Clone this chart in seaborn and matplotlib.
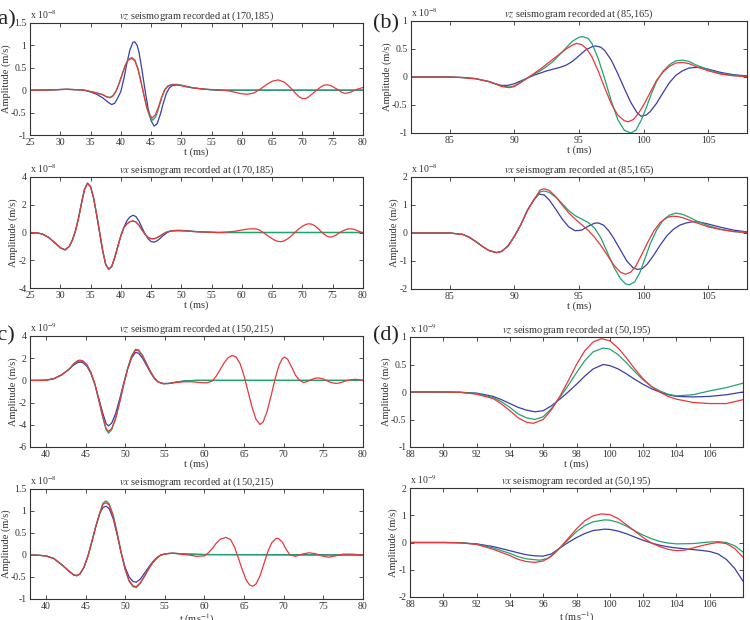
import numpy as np
import pandas as pd
import matplotlib
matplotlib.use("Agg")
import matplotlib.pyplot as plt
import seaborn as sns
from matplotlib.ticker import FuncFormatter

# ---- data (amplitudes in units of the axis exponent) ----
# (a) receiver (170,185)
a1_blue = [(25, 0), (28, 0.005), (31, 0.02), (33, 0.01), (34, 0), (35, -0.04), (36, -0.09), (37, -0.17),
           (38, -0.28), (38.5, -0.32), (39, -0.29), (39.5, -0.17), (40, -0.03), (40.5, 0.25), (41, 0.6),
           (41.5, 0.9), (42, 1.07), (42.3, 1.08), (42.7, 1.0), (43, 0.85), (43.5, 0.45), (44, 0.0),
           (44.5, -0.4), (45, -0.68), (45.5, -0.8), (46, -0.75), (46.5, -0.55), (47, -0.3), (47.5, -0.08),
           (48, 0.05), (48.5, 0.1), (49.3, 0.12), (50, 0.11), (51, 0.08), (52, 0.05), (54, 0.02), (56, 0.0),
           (80, 0.0)]
a1_green = [(25, 0), (28, 0.005), (31, 0.02), (33, 0.01), (34, 0), (35, -0.03), (36, -0.06), (37, -0.1),
            (37.7, -0.15), (38.2, -0.16), (38.7, -0.12), (39.2, -0.02), (39.7, 0.15), (40.2, 0.35),
            (40.7, 0.55), (41.2, 0.68), (41.8, 0.73), (42.3, 0.68), (42.8, 0.5), (43.3, 0.22), (43.8, -0.1),
            (44.3, -0.4), (44.8, -0.6), (45.3, -0.67), (45.8, -0.58), (46.3, -0.38), (46.8, -0.15),
            (47.3, 0.02), (47.8, 0.1), (48.5, 0.13), (49.3, 0.13), (50, 0.11), (51, 0.08), (52, 0.05),
            (54, 0.02), (56, 0.0), (80, 0.0)]
a1_red = [(25, 0), (28, 0.005), (31, 0.02), (33, 0.01), (34, 0), (35, -0.03), (36, -0.06), (37, -0.1),
          (37.7, -0.15), (38.2, -0.17), (38.7, -0.13), (39.2, -0.03), (39.7, 0.14), (40.2, 0.34),
          (40.7, 0.54), (41.2, 0.67), (41.8, 0.71), (42.3, 0.66), (42.8, 0.48), (43.3, 0.2), (43.8, -0.1),
          (44.3, -0.38), (44.8, -0.56), (45.2, -0.62), (45.7, -0.55), (46.2, -0.38), (46.7, -0.17),
          (47.2, 0.0), (47.8, 0.09), (48.5, 0.12), (49.3, 0.12), (50, 0.1), (51, 0.07), (52, 0.05),
          (54, 0.02), (56, 0.01), (57, 0.0), (58, -0.02), (59, -0.05), (60, -0.08), (61, -0.09),
          (62, -0.06), (63, 0.02), (64, 0.12), (65, 0.2), (66, 0.23), (67, 0.18), (68, 0.06), (69, -0.09),
          (69.5, -0.15), (70, -0.19), (70.5, -0.19), (71, -0.15), (72, -0.04), (73, 0.07), (73.5, 0.11),
          (74, 0.12), (74.5, 0.11), (75, 0.08), (76, 0.0), (76.5, -0.05), (77, -0.07), (77.5, -0.06),
          (78, -0.04), (79, 0.02), (80, 0.06)]

a2_start = [(25, 0), (26, -0.02), (27, -0.1), (28, -0.33), (29, -0.7), (30, -1.1), (30.8, -1.25),
            (31.5, -1.0), (32, -0.55), (32.5, 0.1), (33, 1.0), (33.5, 2.1), (34, 3.1), (34.5, 3.55),
            (35, 3.3), (35.5, 2.5), (36, 1.3), (36.5, 0.0), (37, -1.3), (37.5, -2.3), (38, -2.65),
            (38.5, -2.45), (39, -1.8), (39.5, -1.0), (40, -0.25), (40.5, 0.35)]
a2_blue = a2_start + [(41, 0.85), (41.5, 1.12), (42, 1.24), (42.5, 1.15), (43, 0.82), (43.5, 0.35),
                      (44, -0.1), (44.5, -0.45), (45, -0.65), (45.5, -0.7), (46, -0.6), (46.5, -0.42),
                      (47, -0.22), (47.5, -0.05), (48, 0.07), (48.5, 0.13), (49.5, 0.16), (50.5, 0.14),
                      (52, 0.08), (54, 0.03), (56, 0.0), (80, 0.0)]
a2_mid = [(41, 0.62), (41.5, 0.78), (42, 0.83), (42.5, 0.76), (43, 0.52), (43.5, 0.18), (44, -0.13),
          (44.5, -0.35), (45, -0.45), (45.5, -0.45), (46, -0.37), (46.5, -0.24), (47, -0.1), (47.5, 0.02),
          (48, 0.08), (48.5, 0.12), (49.5, 0.13), (50.5, 0.12), (52, 0.07), (54, 0.03), (56, 0.0)]
a2_green = a2_start + a2_mid + [(80, 0.0)]
a2_red = a2_start + a2_mid + [(57, 0.02), (58, 0.05), (59, 0.1), (60, 0.18), (61, 0.25), (62, 0.27),
                              (62.5, 0.24), (63, 0.15), (63.5, 0.0), (64, -0.15), (64.5, -0.3),
                              (65, -0.45), (65.5, -0.57), (66, -0.64), (66.5, -0.66), (67, -0.6),
                              (67.5, -0.47), (68, -0.3), (68.5, -0.1), (69, 0.1), (69.5, 0.3), (70, 0.45),
                              (70.5, 0.57), (71, 0.63), (71.5, 0.6), (72, 0.5), (72.5, 0.32), (73, 0.1),
                              (73.5, -0.1), (74, -0.26), (74.5, -0.33), (75, -0.3), (75.5, -0.2),
                              (76, -0.05), (76.5, 0.08), (77, 0.18), (77.5, 0.25), (78, 0.27),
                              (78.5, 0.23), (79, 0.15), (79.5, 0.05), (80, -0.05)]

# (b) receiver (85,165)
b1_start = [(82, 0), (85, 0), (86, -0.01), (87, -0.03), (88, -0.08), (88.5, -0.12)]
b1_blue = b1_start + [(89, -0.15), (89.5, -0.15), (90, -0.12), (90.5, -0.07), (91, -0.02), (91.5, 0.03),
                      (92, 0.07), (92.5, 0.11), (93, 0.14), (93.5, 0.17), (94, 0.21), (94.5, 0.28),
                      (95, 0.38), (95.5, 0.48), (96, 0.54), (96.3, 0.555), (96.7, 0.53), (97, 0.47),
                      (97.5, 0.3), (98, 0.06), (98.5, -0.2), (99, -0.45), (99.5, -0.64), (99.8, -0.7),
                      (100.2, -0.68), (100.5, -0.62), (101, -0.47), (101.5, -0.28), (102, -0.1),
                      (102.5, 0.03), (103, 0.11), (103.5, 0.16), (104, 0.17), (104.5, 0.17), (105, 0.14),
                      (106, 0.08), (107, 0.04), (108, 0.02)]
b1_green = b1_start + [(89, -0.16), (89.6, -0.18), (90, -0.16), (90.5, -0.09), (91, -0.02), (91.5, 0.05),
                       (92, 0.11), (92.5, 0.19), (93, 0.28), (93.5, 0.4), (94, 0.52), (94.5, 0.64),
                       (95, 0.71), (95.3, 0.72), (95.7, 0.69), (96, 0.6), (96.5, 0.32), (97, -0.04),
                       (97.5, -0.43), (98, -0.76), (98.5, -0.95), (99, -1.0), (99.4, -0.95), (99.8, -0.78),
                       (100.2, -0.55), (100.6, -0.3), (101, -0.08), (101.5, 0.1), (102, 0.22),
                       (102.5, 0.29), (103, 0.3), (103.5, 0.28), (104, 0.22), (105, 0.13), (106, 0.06),
                       (107, 0.03), (108, 0.01)]
b1_red = b1_start + [(89, -0.17), (89.6, -0.19), (90, -0.17), (90.5, -0.1), (91, -0.02), (91.5, 0.06),
                     (92, 0.14), (92.5, 0.23), (93, 0.32), (93.5, 0.41), (94, 0.5), (94.5, 0.57),
                     (94.8, 0.6), (95.2, 0.58), (95.6, 0.5), (96, 0.36), (96.5, 0.1), (97, -0.2),
                     (97.5, -0.48), (98, -0.68), (98.5, -0.78), (98.8, -0.8), (99.2, -0.76), (99.6, -0.65),
                     (100, -0.5), (100.5, -0.28), (101, -0.06), (101.5, 0.09), (102, 0.19), (102.5, 0.25),
                     (103, 0.26), (103.5, 0.24), (104, 0.19), (105, 0.11), (106, 0.05), (107, 0.02),
                     (108, 0.01)]

b2_start = [(82, 0), (85, 0), (86, -0.05), (86.5, -0.15), (87, -0.3), (87.5, -0.47), (88, -0.62),
            (88.6, -0.7), (89, -0.66), (89.5, -0.47), (90, -0.12), (90.5, 0.3), (91, 0.8), (91.5, 1.18)]
b2_blue = b2_start + [(91.9, 1.39), (92.3, 1.36), (92.7, 1.18), (93.2, 0.85), (93.7, 0.5), (94.2, 0.22),
                      (94.7, 0.08), (95.2, 0.1), (95.7, 0.24), (96.2, 0.35), (96.5, 0.36), (96.9, 0.28),
                      (97.3, 0.08), (97.7, -0.2), (98.2, -0.6), (98.7, -1.0), (99.2, -1.25), (99.5, -1.3),
                      (99.9, -1.27), (100.3, -1.1), (100.8, -0.78), (101.3, -0.42), (101.8, -0.1),
                      (102.3, 0.13), (102.8, 0.28), (103.3, 0.36), (103.8, 0.4), (104.3, 0.39),
                      (105, 0.32), (106, 0.2), (107, 0.1), (108, 0.04)]
b2_green = b2_start + [(92, 1.47), (92.3, 1.5), (92.7, 1.45), (93.2, 1.28), (93.7, 1.05), (94.2, 0.8),
                       (94.7, 0.62), (95.2, 0.5), (95.7, 0.38), (96.2, 0.18), (96.7, -0.18), (97.2, -0.7),
                       (97.7, -1.22), (98.2, -1.62), (98.6, -1.82), (98.9, -1.85), (99.3, -1.75),
                       (99.7, -1.42), (100.1, -0.92), (100.5, -0.4), (101, 0.1), (101.5, 0.45), (102, 0.64),
                       (102.5, 0.71), (103, 0.67), (103.5, 0.57), (104, 0.45), (105, 0.26), (106, 0.13),
                       (107, 0.05), (108, 0.02)]
b2_red = b2_start + [(92, 1.54), (92.3, 1.58), (92.7, 1.52), (93.2, 1.3), (93.7, 1.0), (94.2, 0.72),
                     (94.7, 0.5), (95.2, 0.3), (95.7, 0.1), (96.2, -0.15), (96.7, -0.45), (97.2, -0.8),
                     (97.7, -1.15), (98.2, -1.4), (98.6, -1.47), (99, -1.4), (99.4, -1.18), (99.8, -0.82),
                     (100.3, -0.35), (100.8, 0.08), (101.3, 0.38), (101.8, 0.55), (102.2, 0.6),
                     (102.6, 0.59), (103, 0.55), (104, 0.38), (105, 0.22), (106, 0.12), (107, 0.05),
                     (108, 0.02)]

# (c) receiver (150,215)
c1_start = [(38, 0), (39, 0), (40, 0.02), (41, 0.15), (42, 0.5), (43, 1.05)]
c1_blue = c1_start + [(43.5, 1.38), (44, 1.6), (44.3, 1.65), (44.7, 1.58), (45.2, 1.25), (45.7, 0.6),
                      (46.2, -0.4), (46.7, -1.7), (47.2, -3.0), (47.6, -3.9), (47.9, -4.1), (48.3, -3.85),
                      (48.8, -3.0), (49.3, -1.7), (49.8, -0.3), (50.3, 1.0), (50.8, 2.0), (51.3, 2.52),
                      (51.7, 2.45), (52.2, 2.0), (52.7, 1.35), (53.2, 0.7), (53.7, 0.15), (54.2, -0.15),
                      (54.8, -0.28), (55.5, -0.27), (56.5, -0.15), (57.5, -0.05), (59, 0.0), (80, 0.0)]
c1_green = c1_start + [(43.5, 1.45), (44, 1.7), (44.3, 1.75), (44.7, 1.68), (45.2, 1.33), (45.7, 0.65),
                       (46.2, -0.4), (46.7, -1.9), (47.2, -3.4), (47.6, -4.45), (47.9, -4.75), (48.3, -4.45),
                       (48.8, -3.45), (49.3, -2.0), (49.8, -0.4), (50.3, 1.05), (50.8, 2.2), (51.3, 2.8),
                       (51.7, 2.75), (52.2, 2.25), (52.7, 1.5), (53.2, 0.78), (53.7, 0.2), (54.2, -0.15),
                       (54.8, -0.3), (55.5, -0.28), (56.5, -0.15), (57.5, -0.05), (59, 0.0), (80, 0.0)]
c1_red = c1_start + [(43.5, 1.5), (44, 1.78), (44.3, 1.83), (44.7, 1.75), (45.2, 1.4), (45.7, 0.7),
                     (46.2, -0.35), (46.7, -1.8), (47.2, -3.3), (47.6, -4.35), (47.9, -4.6), (48.3, -4.35),
                     (48.8, -3.4), (49.3, -2.0), (49.8, -0.45), (50.3, 1.0), (50.8, 2.1), (51.3, 2.72),
                     (51.7, 2.68), (52.2, 2.2), (52.7, 1.5), (53.2, 0.8), (53.7, 0.2), (54.2, -0.15),
                     (54.8, -0.3), (55.5, -0.28), (56.5, -0.18), (57.5, -0.12), (58.5, -0.13),
                     (59.5, -0.2), (60.3, -0.22), (61, -0.05), (61.5, 0.4), (62, 1.0), (62.5, 1.6),
                     (63, 2.05), (63.5, 2.25), (64, 2.1), (64.5, 1.5), (65, 0.4), (65.5, -1.0), (66, -2.4),
                     (66.5, -3.5), (67, -3.97), (67.4, -3.75), (67.9, -2.8), (68.4, -1.4), (68.9, 0.1),
                     (69.4, 1.35), (69.8, 1.95), (70.1, 2.1), (70.5, 1.9), (71, 1.2), (71.5, 0.45),
                     (72, 0.0), (72.5, -0.18), (73, -0.1), (73.5, 0.08), (74, 0.2), (74.5, 0.22),
                     (75, 0.12), (75.5, -0.05), (76, -0.2), (76.6, -0.28), (77.2, -0.2), (77.8, -0.05),
                     (78.5, 0.06), (79, 0.1), (79.5, 0.06), (80, 0.0)]

c2_start = [(38, 0), (39, -0.005), (40, -0.02), (41, -0.08), (42, -0.22), (43, -0.38), (43.5, -0.45),
            (43.9, -0.47), (44.3, -0.43), (44.8, -0.28), (45.3, -0.03), (45.8, 0.3), (46.3, 0.65),
            (46.8, 0.95)]
c2_blue = c2_start + [(47.2, 1.08), (47.6, 1.11), (48, 1.05), (48.5, 0.82), (49, 0.45), (49.5, 0.05),
                      (50, -0.28), (50.5, -0.5), (51, -0.6), (51.4, -0.62), (51.9, -0.55), (52.5, -0.4),
                      (53, -0.27), (53.5, -0.15), (54, -0.06), (54.5, 0.0), (55.2, 0.03), (56, 0.04),
                      (57, 0.03), (58, 0.02), (60, 0.01), (80, 0.0)]
c2_green = c2_start + [(47.2, 1.18), (47.6, 1.23), (48, 1.16), (48.5, 0.9), (49, 0.5), (49.5, 0.05),
                       (50, -0.33), (50.5, -0.6), (51, -0.72), (51.4, -0.74), (51.9, -0.65), (52.5, -0.47),
                       (53, -0.31), (53.5, -0.17), (54, -0.07), (54.5, 0.0), (55.2, 0.03), (56, 0.04),
                       (57, 0.03), (58, 0.02), (60, 0.01), (80, 0.0)]
c2_red = c2_start + [(47.2, 1.15), (47.6, 1.19), (48, 1.13), (48.5, 0.88), (49, 0.48), (49.5, 0.05),
                     (50, -0.32), (50.5, -0.58), (51, -0.7), (51.4, -0.72), (51.9, -0.63), (52.5, -0.46),
                     (53, -0.3), (53.5, -0.17), (54, -0.07), (54.5, 0.0), (55.2, 0.03), (56, 0.04),
                     (57, 0.02), (58, 0.0), (59, -0.03), (60, -0.02), (60.5, 0.05), (61, 0.15),
                     (61.5, 0.27), (62, 0.36), (62.7, 0.4), (63.3, 0.35), (63.8, 0.18), (64.3, -0.08),
                     (64.8, -0.35), (65.3, -0.58), (65.7, -0.68), (66.1, -0.71), (66.5, -0.66), (67, -0.48),
                     (67.5, -0.2), (68, 0.08), (68.5, 0.28), (69, 0.37), (69.3, 0.38), (69.8, 0.3),
                     (70.3, 0.13), (70.8, 0.0), (71.5, -0.03), (72.3, 0.02), (73.2, 0.05), (74, 0.03),
                     (75, -0.03), (75.7, -0.05), (76.5, -0.02), (77.5, 0.02), (78.5, 0.02), (80, 0.0)]

# (d) receiver (50,195)
d1_blue = [(88, 0), (90, 0), (91, -0.005), (92, -0.02), (93, -0.08), (93.5, -0.14), (94, -0.21),
           (94.5, -0.28), (95, -0.33), (95.5, -0.36), (96, -0.34), (96.5, -0.25), (97, -0.13), (97.5, 0.0),
           (98, 0.14), (98.5, 0.29), (99, 0.42), (99.6, 0.5), (100, 0.48), (100.5, 0.42), (101, 0.33),
           (101.5, 0.23), (102, 0.14), (102.5, 0.06), (103, 0.0), (103.5, -0.05), (104, -0.08),
           (105, -0.09), (106, -0.08), (107, -0.05), (108, 0.0)]
d1_green = [(88, 0), (90, 0), (91, -0.005), (92, -0.03), (93, -0.1), (93.5, -0.18), (94, -0.28),
            (94.5, -0.4), (95, -0.47), (95.5, -0.5), (96, -0.45), (96.5, -0.3), (97, -0.1), (97.5, 0.12),
            (98, 0.35), (98.5, 0.57), (99, 0.73), (99.6, 0.8), (100, 0.78), (100.5, 0.68), (101, 0.53),
            (101.5, 0.37), (102, 0.22), (102.5, 0.1), (103, 0.02), (103.5, -0.04), (104, -0.07),
            (105, -0.05), (106, 0.02), (107, 0.08), (108, 0.16)]
d1_red = [(88, 0), (90, 0), (91, -0.005), (92, -0.04), (93, -0.12), (93.5, -0.22), (94, -0.34),
          (94.5, -0.47), (95, -0.55), (95.4, -0.57), (96, -0.5), (96.5, -0.32), (97, -0.08), (97.5, 0.2),
          (98, 0.5), (98.5, 0.75), (99, 0.91), (99.5, 0.97), (100, 0.93), (100.5, 0.8), (101, 0.62),
          (101.5, 0.42), (102, 0.24), (102.5, 0.1), (103, 0.0), (103.5, -0.08), (104, -0.13),
          (105, -0.19), (106, -0.21), (107, -0.21), (108, -0.14)]

d2_blue = [(88, 0), (90, 0), (91, -0.01), (92, -0.05), (93, -0.15), (94, -0.3), (94.5, -0.38), (95, -0.45),
           (95.5, -0.49), (96, -0.5), (96.5, -0.42), (97, -0.2), (97.5, 0.0), (98, 0.18), (98.5, 0.33),
           (99, 0.44), (99.7, 0.49), (100, 0.48), (100.5, 0.42), (101, 0.32), (101.5, 0.2), (102, 0.08),
           (102.5, -0.02), (103, -0.1), (103.5, -0.16), (104, -0.2), (104.5, -0.23), (105, -0.26),
           (105.5, -0.29), (106, -0.33), (106.5, -0.42), (107, -0.62), (107.5, -0.95), (108, -1.42)]
d2_green = [(88, 0), (90, 0), (91, -0.01), (92, -0.06), (93, -0.2), (94, -0.4), (94.5, -0.52), (95, -0.6),
            (95.8, -0.65), (96.3, -0.58), (96.7, -0.38), (97, -0.2), (97.5, 0.1), (98, 0.4), (98.5, 0.62),
            (99, 0.76), (99.7, 0.83), (100, 0.82), (100.5, 0.74), (101, 0.6), (101.5, 0.43), (102, 0.27),
            (102.5, 0.14), (103, 0.04), (103.5, -0.02), (104, -0.05), (105, -0.04), (106, 0.02),
            (106.5, 0.03), (107, 0.0), (107.5, -0.12), (108, -0.35)]
d2_red = [(88, 0), (90, 0), (91, -0.01), (92, -0.07), (93, -0.25), (94, -0.48), (94.5, -0.62), (95, -0.7),
          (95.5, -0.73), (96, -0.68), (96.5, -0.5), (97, -0.2), (97.5, 0.15), (98, 0.5), (98.5, 0.8),
          (99, 0.98), (99.5, 1.05), (100, 1.02), (100.5, 0.88), (101, 0.65), (101.5, 0.42), (102, 0.18),
          (102.5, -0.02), (103, -0.15), (103.5, -0.25), (104, -0.3), (104.5, -0.28), (105, -0.2),
          (105.5, -0.12), (106, -0.05), (106.5, 0.0), (107, -0.04), (107.5, -0.22), (108, -0.54)]

# ---- style ----
sns.set_theme(style="ticks")
plt.rcParams["font.family"] = ["Liberation Serif", "DejaVu Serif"]
plt.rcParams["mathtext.fontset"] = "stix"
plt.rcParams["axes.unicode_minus"] = False
plt.rcParams["xtick.direction"] = "in"
plt.rcParams["ytick.direction"] = "in"
plt.rcParams["xtick.top"] = True
plt.rcParams["ytick.right"] = True

palette = {"blue": "#3c3caa", "green": "#22a36e", "red": "#e8373b"}
order = ["blue", "green", "red"]

W, H = 750, 620
fig = plt.figure(figsize=(W / 100, H / 100), dpi=100)


def make_ax(left, top, right, bottom):
    return fig.add_axes([left / W, 1 - bottom / H, (right - left) / W, (bottom - top) / H])


def panel(ax, curves, xlim, xticks, ylim, yticks, exp, comp, rec, xlabel):
    rows = []
    for name, pts in zip(order, curves):
        for t, v in pts:
            rows.append((name, t, v))
    df = pd.DataFrame(rows, columns=["curve", "t", "v"])
    sns.lineplot(data=df, x="t", y="v", hue="curve", hue_order=order, palette=palette,
                 estimator=None, sort=False, legend=False, linewidth=0.9, ax=ax)
    ax.set_xlim(xlim)
    ax.set_ylim(ylim)
    ax.set_xticks(xticks)
    ax.set_yticks(yticks)
    fmt = FuncFormatter(lambda v, p: f"{v:g}")
    ax.xaxis.set_major_formatter(fmt)
    ax.yaxis.set_major_formatter(fmt)
    ax.tick_params(labelsize=7, length=3, width=0.6, colors="#333333")
    ax.tick_params(axis="x", pad=2.5)
    ax.tick_params(axis="y", pad=2.5)
    for s in ax.spines.values():
        s.set_linewidth(0.8)
        s.set_color("#333333")
    ax.set_xlabel(xlabel, fontsize=7.5, labelpad=0, color="#333333")
    ax.set_ylabel("Amplitude (m/s)", fontsize=7.5, labelpad=0, color="#333333")
    ax.set_title(f"${comp}$ seismogram recorded at {rec}", fontsize=7.5, pad=3, color="#333333")
    ax.text(0.0, 1.015, "x 10$^{" + str(exp) + "}$", transform=ax.transAxes, fontsize=7,
            ha="left", va="bottom", color="#333333")


ax = make_ax(30, 23, 363, 135)
panel(ax, [a1_blue, a1_green, a1_red], (25, 80), range(25, 81, 5), (-1, 1.5),
      [-1, -0.5, 0, 0.5, 1, 1.5], -8, "vz", "(170,185)", "t (ms)")
ax = make_ax(30, 177, 363, 288)
panel(ax, [a2_blue, a2_green, a2_red], (25, 80), range(25, 81, 5), (-4, 4),
      [-4, -2, 0, 2, 4], -8, "vx", "(170,185)", "t (ms)")

ax = make_ax(411, 21, 747, 133)
panel(ax, [b1_blue, b1_green, b1_red], (82, 108), range(85, 106, 5), (-1, 1),
      [-1, -0.5, 0, 0.5, 1], -8, "vz", "(85,165)", "t (ms)")
ax = make_ax(411, 177, 747, 289)
panel(ax, [b2_blue, b2_green, b2_red], (82, 108), range(85, 106, 5), (-2, 2),
      [-2, -1, 0, 1, 2], -8, "vx", "(85,165)", "t (ms)")

ax = make_ax(30, 336, 363, 447)
panel(ax, [c1_blue, c1_green, c1_red], (38, 80), range(40, 81, 5), (-6, 4),
      [-6, -4, -2, 0, 2, 4], -9, "vz", "(150,215)", "t (ms)")
ax = make_ax(30, 489, 363, 599)
panel(ax, [c2_blue, c2_green, c2_red], (38, 80), range(40, 81, 5), (-1, 1.5),
      [-1, -0.5, 0, 0.5, 1, 1.5], -8, "vx", "(150,215)", "t (ms$^{-1}$)")

ax = make_ax(410, 337, 743, 447)
panel(ax, [d1_blue, d1_green, d1_red], (88, 108), range(88, 107, 2), (-1, 1),
      [-1, -0.5, 0, 0.5, 1], -9, "vz", "(50,195)", "t (ms)")
ax = make_ax(410, 488, 743, 597)
panel(ax, [d2_blue, d2_green, d2_red], (88, 108), range(88, 107, 2), (-2, 2),
      [-2, -1, 0, 1, 2], -9, "vx", "(50,195)", "t (ms$^{-1}$)")

# panel letters
for label, x, y in [("(a)", 16, 20), ("(b)", 399, 24), ("(c)", 15, 336), ("(d)", 399, 336)]:
    fig.text(x / W, 1 - y / H, label, fontsize=16, ha="right", va="center", color="#222222")

fig.savefig("out.png", dpi=100)
